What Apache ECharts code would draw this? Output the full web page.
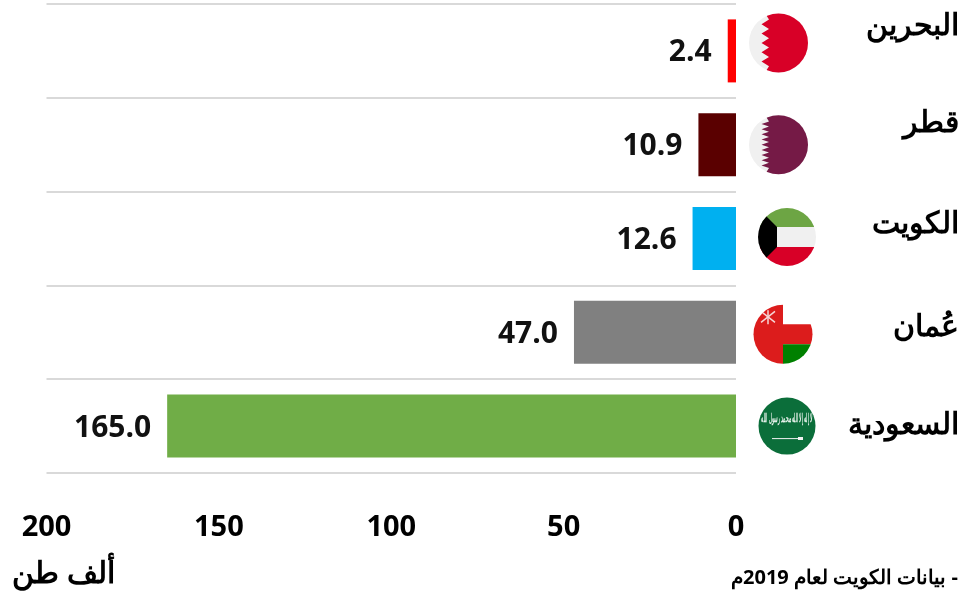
<!DOCTYPE html>
<html lang="ar">
<head>
<meta charset="utf-8">
<style>html,body{margin:0;padding:0;background:#fff}#c{width:974px;height:600px}</style>
<script src="https://cdn.jsdelivr.net/npm/echarts@6/dist/echarts.min.js"></script>
</head>
<body>
<div id="c" dir="rtl"></div>
<script>
const categories = ['البحرين', 'قطر', 'الكويت', 'عُمان', 'السعودية'];
const values = [2.4, 10.9, 12.6, 47.0, 165.0];
const barColors = ['#ff0000', '#5a0000', '#00b0f0', '#808080', '#70ad47'];
const axisMax = 200;
const axisStep = 50;
const unitLabel = 'ألف طن';
const footnote = '- بيانات الكويت لعام 2019م';
const FONT = '"Open Sans"';

function circleClip(r) { return { type: 'circle', shape: { cx: 0, cy: 0, r: r } }; }
function rect(x, y, w, h, fill) { return { type: 'rect', shape: { x: x, y: y, width: w, height: h }, style: { fill: fill } }; }
function serrated(tips, fill) {
  const pts = [[32, -32], [-15, -32]];
  const step = 46.6 / tips;
  for (let i = 0; i < tips; i++) {
    const y0 = -23.3 + i * step;
    pts.push([-9.5, y0], [-17, y0 + step / 2]);
  }
  pts.push([-9.5, 23.3], [-15, 32], [32, 32]);
  return { type: 'polygon', shape: { points: pts }, style: { fill: fill } };
}
const flags = [
  { dx: 42.5, dy: -8, r: 29.5, draw: () => [rect(-30, -30, 60, 60, '#f0f0f0'), serrated(5, '#d80027')] },
  { dx: 42.5, dy: 0, r: 29.5, draw: () => [rect(-30, -30, 60, 60, '#f0f0f0'), serrated(9, '#751a46')] },
  { dx: 51, dy: -1.5, r: 29, draw: () => [
    rect(-30, -30, 60, 20, '#6da544'), rect(-30, -10, 60, 20, '#f0f0f0'), rect(-30, 10, 60, 20, '#d80027'),
    { type: 'polygon', shape: { points: [[-30, -30], [-10, -10], [-10, 10], [-30, 30]] }, style: { fill: '#000' } }
  ] },
  { dx: 47, dy: 2, r: 29.5, draw: () => {
    const e = [rect(-30, -30, 30, 60, '#dc1c1c'), rect(0, -10, 30, 20, '#dc1c1c'), rect(0, 10, 30, 20, '#008000')];
    [[-22, -23, -8, -12], [-8, -23, -22, -12], [-15, -24, -15, -10]].forEach(l => e.push({
      type: 'line', shape: { x1: l[0], y1: l[1], x2: l[2], y2: l[3] }, style: { stroke: '#f6d5d5', lineWidth: 1.5 }
    }));
    return e;
  } },
  { dx: 51, dy: 0, r: 28.5, draw: () => [
    rect(-30, -30, 60, 60, '#0b6e3a'),
    { type: 'text', x: 0, y: -7, scaleX: 0.36, style: { text: 'لا إله إلا الله محمد رسول الله', fill: '#e8f2ec', fontSize: 12, fontWeight: 'bold', align: 'center', verticalAlign: 'middle' } },
    { type: 'line', shape: { x1: -15, y1: 12.5, x2: 12, y2: 12.5 }, style: { stroke: '#f2f2f2', lineWidth: 1 } },
    rect(11, 11, 5, 3, '#f2f2f2')
  ] }
];
const labelShift = [24, 21, 14, 5, 1];
const rich = {};
labelShift.forEach((s, i) => {
  rich['k' + i] = { fontFamily: FONT, fontWeight: 'bold', fontSize: 30, color: '#000', padding: [0, 0, s * 2, 0] };
});

const chart = echarts.init(document.getElementById('c'), null, { renderer: 'canvas' });
chart.setOption({
  animation: false,
  backgroundColor: '#fff',
  grid: { left: 46.5, right: 238, top: 4, height: 469 },
  title: [
    { text: footnote, right: 16, top: 568, padding: 0, textStyle: { fontFamily: FONT, fontWeight: 'bold', fontSize: 20, color: '#000' } },
    { text: unitLabel, left: 12, top: 559, padding: 0, textStyle: { fontFamily: FONT, fontWeight: 'bold', fontSize: 30, color: '#000' } }
  ],
  xAxis: {
    type: 'value', inverse: true, min: 0, max: axisMax, interval: axisStep,
    axisLine: { show: false }, axisTick: { show: false }, splitLine: { show: false },
    axisLabel: { color: '#000', fontFamily: FONT, fontWeight: 'bold', fontSize: 29, margin: 40, showMinLabel: true, showMaxLabel: true }
  },
  yAxis: {
    type: 'category', position: 'right', inverse: true, data: categories,
    axisLine: { show: false }, axisTick: { show: false },
    splitLine: { show: true, lineStyle: { color: '#d9d9d9', width: 2 } },
    axisLabel: {
      align: 'right', margin: 222.5, interval: 0,
      formatter: (v, i) => '{k' + i + '|' + v + '}', rich: rich
    }
  },
  series: [
    {
      type: 'bar', barWidth: 63,
      data: values.map((v, i) => ({ value: v, itemStyle: { color: barColors[i] } })),
      label: {
        show: true, position: 'left', distance: 16, offset: [0, 2], color: '#111',
        fontFamily: FONT, fontWeight: 'bold', fontSize: 30,
        formatter: p => p.value.toFixed(1)
      }
    },
    {
      type: 'custom', silent: true, z: 5,
      data: categories.map((c, i) => [0, i]),
      encode: { x: 0, y: 1 },
      renderItem: (params, api) => {
        const p = api.coord([0, api.value(1)]);
        const f = flags[params.dataIndex];
        return {
          type: 'group', x: p[0] + f.dx, y: p[1] + f.dy,
          clipPath: circleClip(f.r),
          children: f.draw()
        };
      }
    }
  ]
});
</script>
</body>
</html>
